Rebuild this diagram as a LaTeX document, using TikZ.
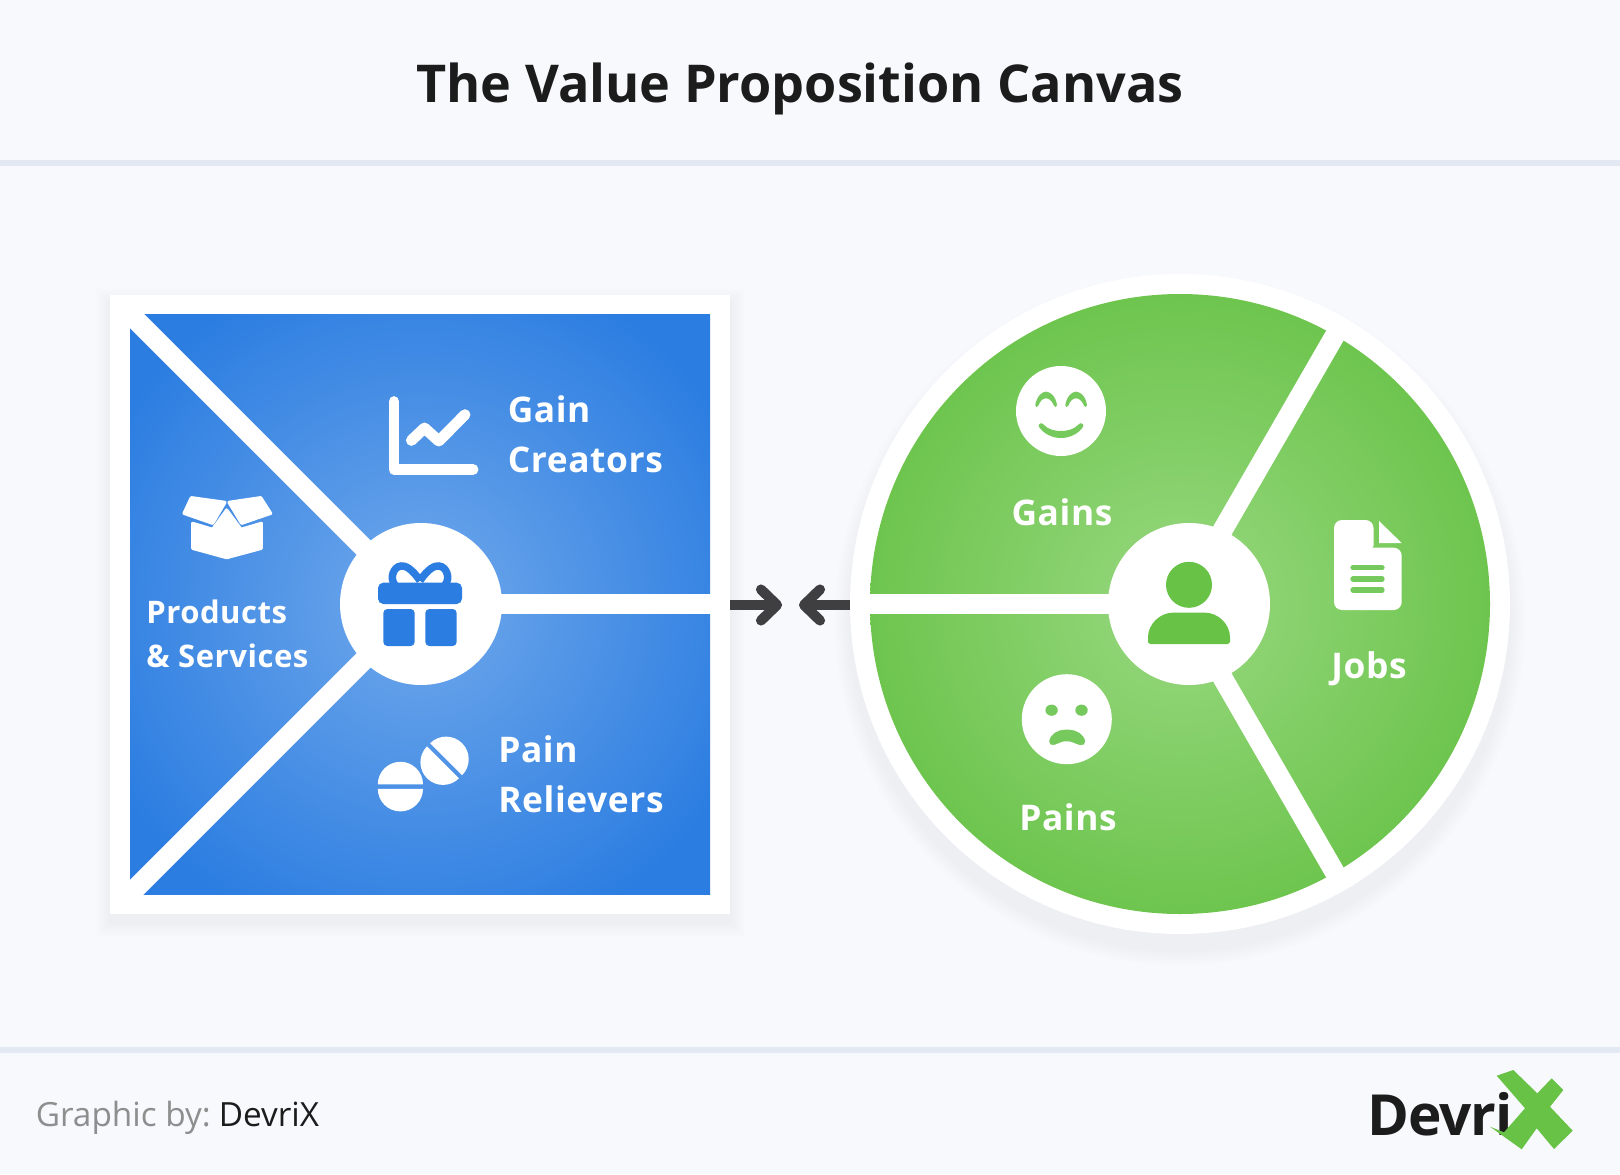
\documentclass[tikz,border=0pt]{standalone}
\usepackage{fontspec}
\setmainfont{Open Sans}
\newfontfamily\spaced[LetterSpace=1.7]{Open Sans}
\newfontfamily\tightf[LetterSpace=-2]{Open Sans}
\definecolor{pagebg}{HTML}{F7F9FD}
\definecolor{rulec}{HTML}{E3E9F3}
\definecolor{blueE}{HTML}{2B7DE1}
\definecolor{blueC}{HTML}{70A8EB}
\definecolor{greenE}{HTML}{67C246}
\definecolor{greenC}{HTML}{98D880}
\definecolor{greenM}{HTML}{76C95C}
\definecolor{darkc}{HTML}{3F3F41}
\definecolor{inkc}{HTML}{1C1C1C}
\definecolor{grayc}{HTML}{8E8E8E}
\pgfdeclareradialshading{bluerad}{\pgfpoint{0bp}{0bp}}{color(0bp)=(blueC); color(17.7bp)=(blueE); color(50bp)=(blueE)}
\tikzset{
  lbl/.style={text=white,font=\spaced\bfseries\fontsize{26.5}{26.5}\selectfont,anchor=base west,inner sep=0pt},
  lblb/.style={text=white,font=\spaced\bfseries\fontsize{23.3}{23.3}\selectfont,anchor=base west,inner sep=0pt},
  spoke/.style={draw=white,line width=15pt},
  arrowline/.style={draw=darkc,line width=7.6pt,line cap=round,line join=round},
  icon/.style={draw=white,fill=white,line join=round},
}
\begin{document}
\begin{tikzpicture}[x=0.75pt,y=-0.75pt]
\useasboundingbox (0,0) rectangle (1620,1174);
\fill[pagebg] (0,0) rectangle (1620,1174);
\fill[rulec] (0,160) rectangle (1620,166);
\fill[rulec] (0,1047) rectangle (1620,1053);
\node[inner sep=0pt,font=\bfseries\fontsize{39.1}{39.1}\selectfont,text=inkc,anchor=base] (title) at (800,102) {The Value Proposition Canvas};
% shadows
\foreach \i in {1,...,10}{
  \fill[black!60!blue,opacity=0.003] (110-1.5*\i,295+8-1.5*\i) rectangle (730+1.5*\i,914+8+1.5*\i);
  \fill[black!70!green,opacity=0.004] (1180,604+16) circle (330+1.6*\i);
}
% value map
\fill[white] (110,295) rectangle (730,914);
\begin{scope}
  \clip (130,314) rectangle (710,894);
  \shade[shading=bluerad] (420,604) circle (500);
\end{scope}
\coordinate (vc) at (420,604);
\coordinate (vtl) at (120,304);
\coordinate (vbl) at (120,904);
\coordinate (vr) at (720,604);
\draw[spoke] (vc) -- (vtl);
\draw[spoke] (vc) -- (vbl);
\draw[spoke] (vc) -- (vr);
\node[circle,fill=white,minimum size=121.5pt,inner sep=0pt] (vhub) at (421,604) {};
% gift
\begin{scope}[shift={(340,520)},x=0.25pt,y=-0.25pt]
  \fill[blueE,rounded corners=4pt] (114,188) rectangle (366,252);
  \fill[blueE,rounded corners=3pt] (130,267) -- (224,267) -- (224,378) -- (130,378) -- cycle;
  \fill[blueE,rounded corners=3pt] (256,267) -- (350,267) -- (350,378) -- (256,378) -- cycle;
  \draw[blueE,line width=5.6pt] (240,182) .. controls (215,145) and (195,136) .. (183,138) .. controls (160,140) and (148,175) .. (165,195);
  \draw[blueE,line width=5.6pt] (240,182) .. controls (265,145) and (285,136) .. (297,138) .. controls (320,140) and (332,175) .. (315,195);
\end{scope}
% chart
\draw[white,line width=8.2pt,line cap=round,line join=round] (394,401.6) -- (394,469.4) -- (473,469.4);
\draw[white,line width=8.2pt,line cap=round,line join=round] (411.4,440.4) -- (424.5,428) -- (438.8,441) -- (465,414.7);
\node[lbl] (gain1) at (507.5,422) {Gain};
\node[lbl] (gain2) at (507.5,472) {Creators};
% box
\begin{scope}[shift={(170,480)},x=0.25pt,y=-0.25pt]
  \draw[icon,line width=2.4pt] (64,53) -- (165,67) -- (128,130) -- (42,100) -- cycle;
  \draw[icon,line width=2.4pt] (272,53) -- (177,67) -- (215,130) -- (302,100) -- cycle;
  \draw[icon,line width=2.4pt] (68,130) -- (128,148) -- (170,90) -- (213,148) -- (274,130) -- (274,205) -- (170,233) -- (68,205) -- cycle;
\end{scope}
\node[lblb] (ps1) at (146,623) {Products};
\node[lblb] (ps2) at (146,667) {\& Services};
% pills
\begin{scope}[shift={(400.3,786.6)}]
  \fill[white] (-22.5,-2.2) arc[start angle=180,end angle=360,radius=22.6] -- cycle;
  \fill[white] (-22.5,2.2) arc[start angle=180,end angle=0,radius=22.6] -- cycle;
\end{scope}
\begin{scope}[shift={(444.5,760.7)},rotate=-45]
  \fill[white] (-22.5,-2.2) arc[start angle=180,end angle=360,radius=22.6] -- cycle;
  \fill[white] (-22.5,2.2) arc[start angle=180,end angle=0,radius=22.6] -- cycle;
\end{scope}
\node[lbl] (pr1) at (498,762.5) {Pain};
\node[lbl] (pr2) at (498,812) {Relievers};
% arrows
\coordinate (al) at (730,605);
\coordinate (at) at (777,605);
\coordinate (ar) at (850,605);
\coordinate (bt) at (804,605);
\draw[draw=darkc,line width=7.6pt] (al) -- (at);
\draw[arrowline] (761,589.5) -- (at) -- (761,620.5);
\draw[draw=darkc,line width=7.6pt] (ar) -- (bt);
\draw[arrowline] (820,589.5) -- (bt) -- (820,620.5);
% customer profile
\fill[white] (1180,604) circle (330);
\begin{scope}
  \clip (1180,604) circle (310);
  \shade[inner color=greenC,outer color=greenE] (1180,604) circle (360);
\end{scope}
\coordinate (cc) at (1180,604);
\coordinate (cl) at (860,604);
\coordinate (cu) at (1345,318);
\coordinate (cd) at (1345,890);
\draw[spoke] (cc) -- (cl);
\draw[spoke] (cc) -- (cu);
\draw[spoke] (cc) -- (cd);
\node[circle,fill=white,minimum size=121.5pt,inner sep=0pt] (chub) at (1189,604) {};
% person
\fill[greenE] (1189,584.8) circle (23);
\fill[greenE,rounded corners=2pt] (1148,644) -- (1148,640) .. controls (1148,624) and (1160,612.6) .. (1176,612.6) -- (1202,612.6) .. controls (1218,612.6) and (1230,624) .. (1230,640) -- (1230,644) -- cycle;
% happy
\fill[white] (1061,411) circle (45);
\begin{scope}[shift={(1000,355)},x=0.25pt,y=-0.25pt]
  \fill[greenM] (106,150) .. controls (110,125) and (125,110) .. (138,110) .. controls (152,110) and (167,125) .. (171,150) .. controls (172,158) and (164,158) .. (162,152) .. controls (155,135) and (146,130) .. (138,130) .. controls (130,130) and (121,135) .. (115,152) .. controls (112,158) and (105,158) .. (106,150) -- cycle;
  \fill[greenM] (196,150) .. controls (200,125) and (215,110) .. (228,110) .. controls (242,110) and (257,125) .. (261,150) .. controls (262,158) and (254,158) .. (252,152) .. controls (245,135) and (236,130) .. (228,130) .. controls (220,130) and (211,135) .. (205,152) .. controls (202,158) and (195,158) .. (196,150) -- cycle;
  \fill[greenM] (116,214) .. controls (116,204) and (125,202) .. (131,209) .. controls (145,224) and (165,228) .. (183,228) .. controls (201,228) and (221,224) .. (235,209) .. controls (241,202) and (250,204) .. (250,214) .. controls (235,238) and (207,249) .. (183,249) .. controls (159,249) and (131,238) .. (116,214) -- cycle;
\end{scope}
\node[lbl,anchor=base] (gains) at (1062,525) {Gains};
% doc
\fill[white,rounded corners=6pt] (1334,520) -- (1373.5,520) -- (1373.5,538) .. controls (1373.5,544) and (1374,547.7) .. (1380,547.7) -- (1401.7,547.7) -- (1401.7,610) -- (1334,610) -- cycle;
\fill[white] (1379,521) -- (1401.7,543) -- (1379,543) -- cycle;
\draw[greenM,line width=4pt,line cap=round] (1353,567.7) -- (1382,567.7);
\draw[greenM,line width=4pt,line cap=round] (1353,579) -- (1382,579);
\draw[greenM,line width=4pt,line cap=round] (1353,590) -- (1382,590);
\node[lbl,anchor=base] (jobs) at (1369,678.5) {Jobs};
% sad
\fill[white] (1066.8,719.2) circle (45);
\fill[greenM] (1051.6,710.2) ellipse (6.2 and 5.6);
\fill[greenM] (1081.5,710.2) ellipse (6.2 and 5.6);
\fill[greenM,rounded corners=1.5pt] (1049,743.5) .. controls (1050,734) and (1058,729.7) .. (1066.8,729.7) .. controls (1076,729.7) and (1084,734) .. (1085.5,743.5) -- (1082,745.5) .. controls (1076,744) and (1071,741.3) .. (1066.8,741.3) .. controls (1062,741.3) and (1057,744) .. (1052,745.5) -- cycle;
\node[lbl,anchor=base] (pains) at (1068,830) {Pains};
% footer
\node[inner sep=0pt,anchor=base west,font=\fontsize{25}{25}\selectfont,text=grayc] (gby) at (35.5,1126) {Graphic by:\hspace{0.24em}\textcolor{inkc}{DevriX}};
\node[inner sep=0pt,anchor=base west,font=\tightf\bfseries\fontsize{42.5}{42.5}\selectfont,text=inkc] (logo) at (1367,1135) {Devri};
\fill[greenE] (1496.7,1075.7) -- (1513.3,1070) -- (1537.3,1093.3) -- (1551.7,1078.3) -- (1563.3,1090) -- (1550,1106.7) -- (1572.7,1130.7) -- (1554,1149) -- (1536.7,1128.3) -- (1521.7,1149.3) -- (1490,1126.7) -- (1504,1132.3) -- (1525,1108.3) -- cycle;
\end{tikzpicture}
\end{document}
